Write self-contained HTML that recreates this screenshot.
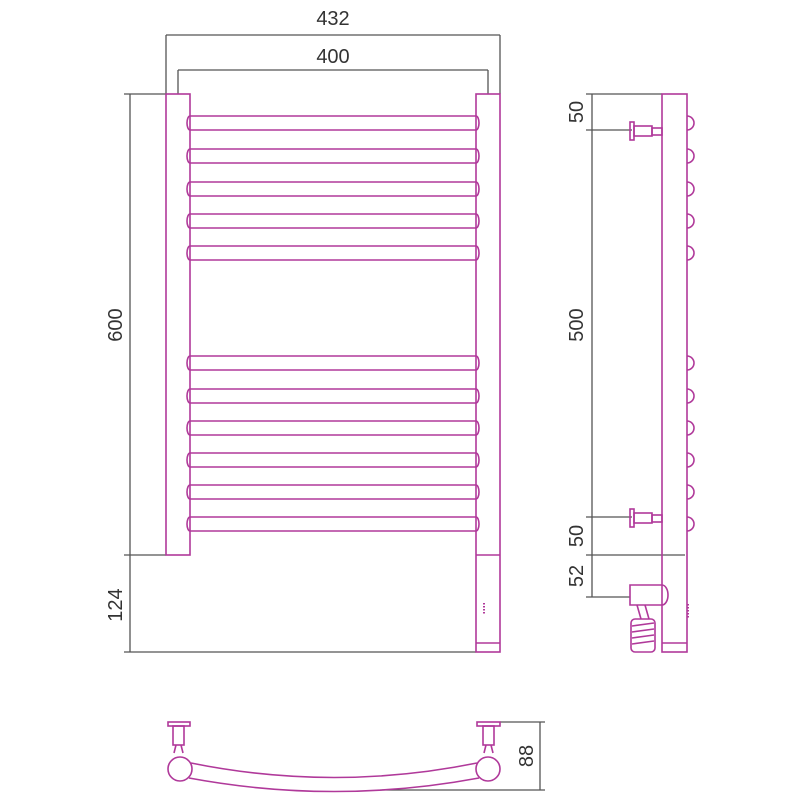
<!DOCTYPE html>
<html><head><style>body{margin:0;background:#fff}svg{display:block}text{font-family:"Liberation Sans",sans-serif;font-size:20px;fill:#333}</style></head><body>
<svg width="800" height="800" viewBox="0 0 800 800" xmlns="http://www.w3.org/2000/svg">
<g stroke="#555" stroke-width="1.3" fill="none">
<path d="M166 35H500M166 35V94M500 35V94M178 70H488M178 70V94M488 70V94"/>
<path d="M130 94V652M124 94H166M124 555H166M124 652H476"/>
<path d="M592 94V597M586 94H662M586 130H632M586 517H632M586 555H685M586 597H630"/>
<path d="M540 722V790M500 722H545M380 790H545"/>
</g>
<text x="333" y="25" text-anchor="middle">432</text>
<text x="333" y="63" text-anchor="middle">400</text>
<text transform="translate(122,325) rotate(-90)" text-anchor="middle">600</text>
<text transform="translate(122,605) rotate(-90)" text-anchor="middle">124</text>
<text transform="translate(583,112) rotate(-90)" text-anchor="middle">50</text>
<text transform="translate(583,325) rotate(-90)" text-anchor="middle">500</text>
<text transform="translate(583,536) rotate(-90)" text-anchor="middle">50</text>
<text transform="translate(583,576) rotate(-90)" text-anchor="middle">52</text>
<text transform="translate(533,756) rotate(-90)" text-anchor="middle">88</text>
<g stroke="#b0399a" stroke-width="1.6" fill="none">
<rect x="166" y="94" width="24" height="461"/>
<rect x="476" y="94" width="24" height="558"/>
<path d="M476 555H500M476 643H500"/>
<path d="M484 603v12" stroke-dasharray="1.5 1.5" stroke-width="2"/>
<g id="r">
<path d="M190 116H476a3 7 0 0 1 0 14H190a3 7 0 0 1 0-14z"/>
</g>
<use href="#r" y="33"/><use href="#r" y="66"/><use href="#r" y="98"/><use href="#r" y="130"/>
<use href="#r" y="240"/><use href="#r" y="273"/><use href="#r" y="305"/><use href="#r" y="337"/><use href="#r" y="369"/><use href="#r" y="401"/>
<rect x="662" y="94" width="25" height="558"/>
<path d="M662 643H687"/>
<g id="b"><path d="M687 116a7 7 0 0 1 0 14"/></g>
<use href="#b" y="33"/><use href="#b" y="66"/><use href="#b" y="98"/><use href="#b" y="130"/>
<use href="#b" y="240"/><use href="#b" y="273"/><use href="#b" y="305"/><use href="#b" y="337"/><use href="#b" y="369"/><use href="#b" y="401"/>
<g id="k"><rect x="630" y="122" width="4" height="18"/><rect x="634" y="126" width="18" height="10"/><rect x="652" y="128" width="10" height="7"/></g>
<use href="#k" y="387"/>
<path d="M630 585H662a6 10 0 0 1 0 20H630z"/>
<path d="M637 605l4 14M645 605l4 14"/>
<rect x="631" y="619" width="24" height="33" rx="4"/>
<path d="M632 626l22-3M632 632l22-3M632 638l22-3M632 644l22-3"/>
<path d="M688 604v14" stroke-dasharray="1.5 1.5" stroke-width="2"/>
<rect x="168" y="722" width="22" height="4"/><rect x="173" y="726" width="11" height="19"/><path d="M176 745l-2 8M181 745l2 8"/>
<circle cx="180" cy="769" r="12"/>
<rect x="477" y="722" width="23" height="4"/><rect x="483" y="726" width="11" height="19"/><path d="M486 745l-2 8M491 745l2 8"/>
<circle cx="488" cy="769" r="12"/>
<path d="M191 763Q334 792 477 763"/>
<path d="M189 778Q334 805 479 778"/>
</g>
</svg>
</body></html>
